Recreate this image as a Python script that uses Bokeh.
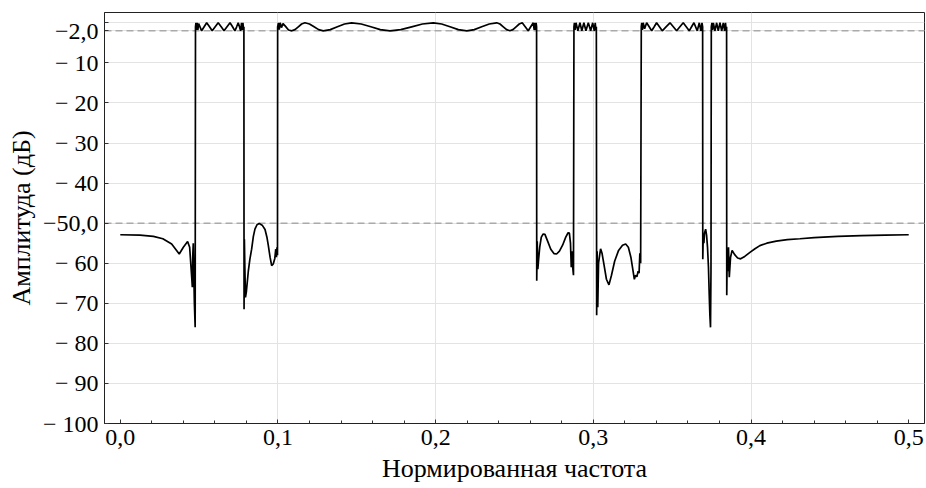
import numpy as np
from bokeh.plotting import figure
from bokeh.models import FixedTicker, Span, Range1d, ColumnDataSource
from bokeh.embed import file_html
from bokeh.resources import INLINE

# ---- data (normalized frequency, dB) ----
stop1_f = [0.0, 0.0125, 0.021, 0.027, 0.0326, 0.0374, 0.040, 0.0427, 0.0440, 0.0453, 0.0457,
           0.0460, 0.0463, 0.0466, 0.0470, 0.0475]
stop1_db = [-52.9, -53.0, -53.3, -53.9, -55.2, -57.7, -56.0, -54.6, -56.0, -63.5, -66.0,
            -58.0, -55.0, -62.0, -70.0, -76.0]

band1_f = [0.0477, 0.0480, 0.0484, 0.0488, 0.0492, 0.0497, 0.0516, 0.0532, 0.0548, 0.0566,
           0.0583, 0.0602, 0.0621, 0.0640, 0.0658, 0.0677, 0.0696, 0.0712, 0.0727, 0.0738,
           0.0748, 0.0756, 0.0763, 0.0769, 0.0774, 0.0778, 0.0781, 0.0784]
band1_db = [-1.0, 0.0, -1.8, 0.0, -1.8, -0.2, -2.0, -1.0, 0.0, -1.0,
            -2.0, -1.0, 0.0, -1.0, -2.0, -1.0, 0.0, -1.0, -2.0, -1.0,
            0.0, -1.0, -2.0, 0.0, -1.8, 0.0, -1.8, -1.0]

stop2_f = [0.0785, 0.0787, 0.0790, 0.0794, 0.0800, 0.0812, 0.0822, 0.0833, 0.0844, 0.0854,
           0.0867, 0.0881, 0.0900, 0.0918, 0.0930, 0.0939, 0.0950, 0.0960, 0.0970, 0.0980,
           0.0986, 0.0990, 0.0994, 0.0997]
stop2_db = [-71.5, -54.0, -61.0, -68.5, -67.0, -62.0, -59.0, -56.5, -53.3, -51.5,
            -50.4, -50.1, -50.5, -51.6, -53.5, -55.6, -58.5, -60.6, -60.2, -58.8,
            -56.5, -58.5, -56.0, -58.0]

band2_f = [0.0998, 0.1003, 0.1008, 0.1014, 0.1022, 0.1032, 0.1048, 0.1067, 0.1087, 0.1108,
           0.1129, 0.1150, 0.1171, 0.1200, 0.1229, 0.1258, 0.1287, 0.1332, 0.1377, 0.1422,
           0.1467, 0.1528, 0.1589, 0.1649, 0.1710, 0.1779, 0.1848, 0.1916, 0.1985, 0.2038,
           0.2091, 0.2144, 0.2197, 0.2245, 0.2292, 0.2340, 0.2387, 0.2408, 0.2429, 0.2450,
           0.2471, 0.2490, 0.2510, 0.2530, 0.2549, 0.2568, 0.2587, 0.2603, 0.2619, 0.2625,
           0.2630, 0.2634, 0.2637, 0.2640]
band2_db = [-1.0, 0.0, -1.7, 0.0, -1.2, -0.2, -0.9, -1.8, -2.0, -1.7,
            -1.0, -0.3, 0.0, -0.3, -1.0, -1.7, -2.0, -1.7, -1.0, -0.3,
            0.0, -0.3, -1.0, -1.7, -2.0, -1.7, -1.0, -0.3, 0.0, -0.3,
            -1.0, -1.7, -2.0, -1.7, -1.0, -0.3, 0.0, -0.3, -1.0, -1.7,
            -2.0, -1.7, -1.0, -0.3, 0.0, -1.0, -2.0, -1.0, 0.0, -1.8,
            0.0, -1.8, 0.0, -1.0]

stop3_f = [0.2641, 0.2644, 0.2648, 0.2653, 0.2660, 0.2670, 0.2682, 0.2693, 0.2710, 0.2730,
           0.2750, 0.2767, 0.2785, 0.2805, 0.2825, 0.2840, 0.2848, 0.2855, 0.2860, 0.2864,
           0.2869, 0.2874]
stop3_db = [-64.4, -54.5, -61.5, -59.0, -56.0, -53.5, -52.7, -52.8, -54.5, -56.5,
            -57.6, -57.7, -57.0, -55.5, -53.5, -52.4, -52.5, -55.0, -61.0, -57.0,
            -61.0, -63.0]

band3_f = [0.2877, 0.2880, 0.2884, 0.2890, 0.2902, 0.2915, 0.2927, 0.2940, 0.2953, 0.2968,
           0.2983, 0.2996, 0.3006, 0.3012, 0.3016, 0.3019]
band3_db = [-1.0, 0.0, -1.8, 0.0, -2.0, 0.0, -2.0, 0.0, -2.0, 0.0,
            -2.0, 0.0, -2.0, 0.0, -1.8, -1.0]

stop4_f = [0.3021, 0.3024, 0.3028, 0.3033, 0.3040, 0.3046, 0.3055, 0.3068, 0.3083, 0.3099,
           0.3115, 0.3135, 0.3160, 0.3185, 0.3205, 0.3222, 0.3238, 0.3250, 0.3260, 0.3268,
           0.3276, 0.3284, 0.3290, 0.3295, 0.3300]
stop4_db = [-73.0, -57.0, -71.0, -60.0, -58.0, -56.4, -57.5, -60.5, -64.0, -65.4,
            -63.0, -59.5, -56.8, -55.5, -55.2, -56.0, -58.5, -61.5, -64.0, -63.0,
            -63.4, -62.0, -62.5, -57.5, -60.0]

band4_f = [0.3304, 0.3307, 0.3311, 0.3316, 0.3325, 0.3338, 0.3354, 0.3370, 0.3386, 0.3401,
           0.3419, 0.3437, 0.3461, 0.3486, 0.3507, 0.3528, 0.3549, 0.3570, 0.3589, 0.3608,
           0.3623, 0.3638, 0.3659, 0.3672, 0.3682, 0.3689, 0.3693]
band4_db = [-1.0, 0.0, -1.8, 0.0, -1.5, 0.0, -1.0, -2.0, -1.0, 0.0,
            -1.0, -2.0, -1.0, 0.0, -1.0, -2.0, -1.0, 0.0, -1.0, -2.0,
            -1.0, 0.0, -2.0, 0.0, -2.0, 0.0, -1.0]

stop5_f = [0.3694, 0.3697, 0.3701, 0.3705, 0.3712, 0.3718, 0.3724, 0.3730, 0.3735, 0.3739,
           0.3743, 0.3746]
stop5_db = [-59.0, -53.0, -55.0, -52.5, -51.5, -53.0, -56.0, -61.0, -68.0, -73.0,
            -76.0, -62.0]

band5_f = [0.3748, 0.3752, 0.3756, 0.3761, 0.3771, 0.3782, 0.3792, 0.3803, 0.3814, 0.3824,
           0.3833, 0.3838, 0.3842, 0.3845]
band5_db = [-1.0, 0.0, -1.8, 0.0, -2.0, 0.0, -2.0, 0.0, -2.0, 0.0,
            -2.0, 0.0, -1.8, -1.0]

stop6_f = [0.3846, 0.3849, 0.3853, 0.3857, 0.3862, 0.3870, 0.3880, 0.3895, 0.3915, 0.3934,
           0.3960, 0.3993, 0.4025, 0.4056, 0.4100, 0.4160, 0.4230, 0.4310, 0.4400, 0.4550,
           0.4700, 0.4850, 0.5000]
stop6_db = [-68.0, -57.0, -62.0, -56.0, -63.5, -58.5, -56.8, -57.8, -58.7, -58.9,
            -58.3, -57.3, -56.4, -55.6, -55.0, -54.5, -54.1, -53.9, -53.6, -53.3,
            -53.1, -53.0, -52.9]

x_ticks = [0.0, 0.1, 0.2, 0.3, 0.4, 0.5]
x_tick_labels = ["0,0", "0,1", "0,2", "0,3", "0,4", "0,5"]
x_grid = [0.1, 0.2, 0.3, 0.4]
x_minor = [0.02, 0.04, 0.06, 0.08, 0.12, 0.14, 0.16, 0.18, 0.22, 0.24, 0.26, 0.28,
           0.32, 0.34, 0.36, 0.38, 0.42, 0.44, 0.46, 0.48]
y_ticks = [-100, -90, -80, -70, -60, -50, -40, -30, -20, -10, -2, 0]
y_tick_labels = ["\u2212 100", "\u2212 90", "\u2212 80", "\u2212 70", "\u2212 60", "\u221250,0",
                 "\u2212 40", "\u2212 30", "\u2212 20", "\u2212 10", "\u22122,0", ""]
ref_levels = [-2, -50]

freq = np.concatenate([stop1_f, band1_f, stop2_f, band2_f, stop3_f, band3_f,
                       stop4_f, band4_f, stop5_f, band5_f, stop6_f])
amp = np.concatenate([stop1_db, band1_db, stop2_db, band2_db, stop3_db, band3_db,
                      stop4_db, band4_db, stop5_db, band5_db, stop6_db])

FONT = "Liberation Serif"

p = figure(width=926, height=488, output_backend="svg", toolbar_location=None,
           x_range=Range1d(-0.01, 0.51), y_range=Range1d(-100, 2.57),
           min_border_left=104, min_border_right=2, min_border_top=12, min_border_bottom=65)
p.background_fill_color = "white"
p.border_fill_color = "white"
p.outline_line_color = "#222222"
p.outline_line_width = 1

for lvl in ref_levels:
    p.add_layout(Span(location=lvl, dimension="width", line_color="#aaaaaa",
                      line_width=1.5, line_dash="7 4", level="underlay"))

src = ColumnDataSource(dict(f=freq, a=amp))
p.line("f", "a", source=src, line_color="black", line_width=1.7)

p.xaxis.ticker = FixedTicker(ticks=x_ticks, minor_ticks=x_minor)
p.xaxis.major_label_overrides = {t: l for t, l in zip(x_ticks, x_tick_labels)}
p.yaxis.ticker = FixedTicker(ticks=y_ticks)
p.yaxis.major_label_overrides = {t: l for t, l in zip(y_ticks, y_tick_labels)}
p.xgrid.ticker = FixedTicker(ticks=x_grid)

for ax in (p.xaxis[0], p.yaxis[0]):
    ax.axis_line_color = "#222222"
    ax.major_tick_line_color = "#333333"
    ax.minor_tick_line_color = "#333333"
    ax.major_tick_in = 4
    ax.major_tick_out = 0
    ax.minor_tick_in = 3
    ax.minor_tick_out = 0
    ax.major_label_text_font = FONT
    ax.major_label_text_font_size = "24px"
    ax.major_label_text_color = "black"
    ax.axis_label_text_font = FONT
    ax.axis_label_text_font_size = "26px"
    ax.axis_label_text_font_style = "normal"
    ax.axis_label_text_color = "black"
    ax.major_label_standoff = 6

p.xaxis.axis_label = "Нормированная частота"
p.yaxis.axis_label = "Амплитуда (дБ)"
p.xaxis.axis_label_standoff = 6
p.yaxis.axis_label_standoff = 4

p.xgrid.grid_line_color = "#e3e3e3"
p.ygrid.grid_line_color = "#e3e3e3"
p.xgrid.grid_line_width = 1
p.ygrid.grid_line_width = 1

open("out.html", "w").write(file_html(p, INLINE))
